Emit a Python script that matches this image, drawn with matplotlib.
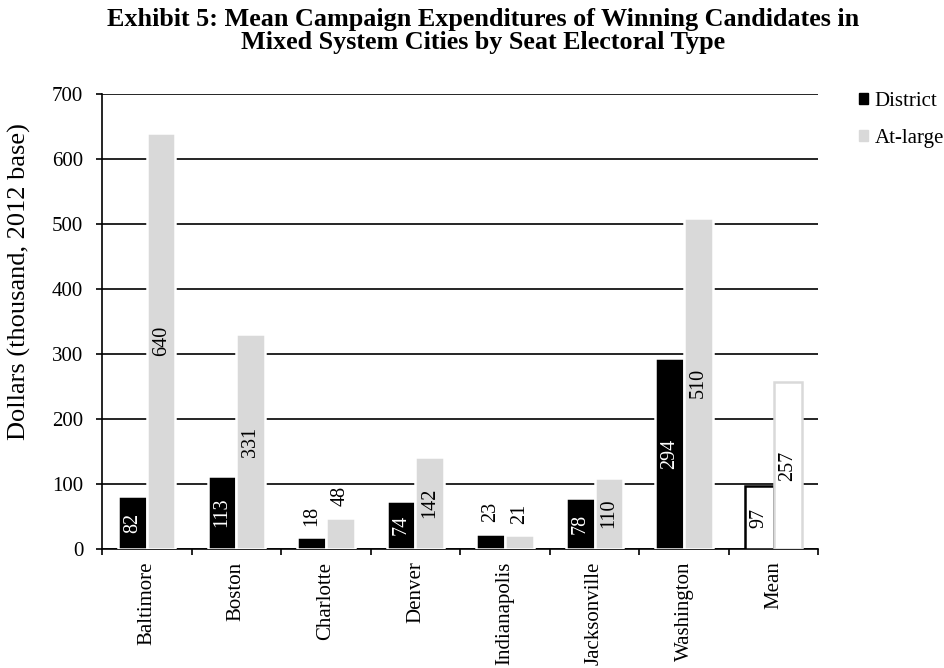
import numpy as np
import matplotlib.pyplot as plt

cities = ['Baltimore', 'Boston', 'Charlotte', 'Denver', 'Indianapolis',
          'Jacksonville', 'Washington', 'Mean']
district = [82, 113, 18, 74, 23, 78, 294, 97]
at_large = [640, 331, 48, 142, 21, 110, 510, 257]

plt.rcParams['font.family'] = ['Liberation Serif', 'DejaVu Serif']

fig = plt.figure(figsize=(9.45, 6.68), dpi=100)
ax = fig.add_axes([0.108, 0.178, 0.758, 0.681])

x = np.arange(len(cities))
w = 0.32

d_face = ['black'] * 7 + ['white']
a_face = ['#d9d9d9'] * 7 + ['white']
d_edge = ['white'] * 7 + ['black']
a_edge = ['white'] * 7 + ['#d9d9d9']

bars_d = ax.bar(x - w / 2, district, w, color=d_face, edgecolor=d_edge,
                linewidth=1.8, zorder=3, label='District')
bars_a = ax.bar(x + w / 2, at_large, w, color=a_face, edgecolor=a_edge,
                linewidth=1.8, zorder=3, label='At-large')

# value labels: inside the bar unless the bar is too short
for bars, vals, inner in [(bars_d, district, 'white'), (bars_a, at_large, 'black')]:
    for i, (b, v) in enumerate(zip(bars, vals)):
        cx = b.get_x() + b.get_width() / 2
        col = 'black' if cities[i] == 'Mean' else inner
        if v < 60:
            ax.annotate(str(v), (cx, v), xytext=(0, 8.5), textcoords='offset points',
                        rotation=90, ha='center', va='bottom', fontsize=14.5,
                        color='black', zorder=4)
        else:
            ax.text(cx, v / 2, str(v), rotation=90, ha='center', va='center',
                    fontsize=14.5, color=col, zorder=4)

ax.set_ylim(0, 700)
ax.set_xlim(-0.5, len(cities) - 0.5)
ax.set_yticks(range(0, 701, 100))
ax.yaxis.grid(True, color='black', linewidth=1.2, zorder=0)
ax.set_axisbelow(True)

ax.set_xticks(np.arange(-0.5, len(cities), 1.0))
ax.set_xticklabels([])
ax.set_xticks(x, minor=True)
ax.set_xticklabels(cities, minor=True, rotation=90, fontsize=15)
ax.tick_params(axis='x', which='minor', length=0, pad=9)
ax.tick_params(axis='x', which='major', length=4.5, width=1.2, direction='out')
ax.tick_params(axis='y', length=4.5, width=1.2, labelsize=15, pad=9)

for s in ['top', 'right']:
    ax.spines[s].set_visible(False)
for s in ['left', 'bottom']:
    ax.spines[s].set_linewidth(1.2)
    ax.spines[s].set_color('black')

fig.text(0.021, 0.578, 'Dollars (thousand, 2012 base)', rotation=90,
         ha='center', va='center', fontsize=19)

fig.suptitle('Exhibit 5: Mean Campaign Expenditures of Winning Candidates in\n'
             'Mixed System Cities by Seat Electoral Type',
             fontsize=18.8, fontweight='bold', x=0.511, y=0.988, va='top',
             linespacing=1.0)

handles = [plt.Rectangle((0, 0), 1, 1, color='black'),
           plt.Rectangle((0, 0), 1, 1, color='#d9d9d9')]
fig.legend(handles, ['District', 'At-large'], loc='upper left',
           bbox_to_anchor=(0.909, 0.862), frameon=False, fontsize=15,
           handlelength=0.45, handleheight=0.45, handletextpad=0.3,
           labelspacing=0.85, borderaxespad=0, borderpad=0)

fig.savefig('out.png', dpi=100)
